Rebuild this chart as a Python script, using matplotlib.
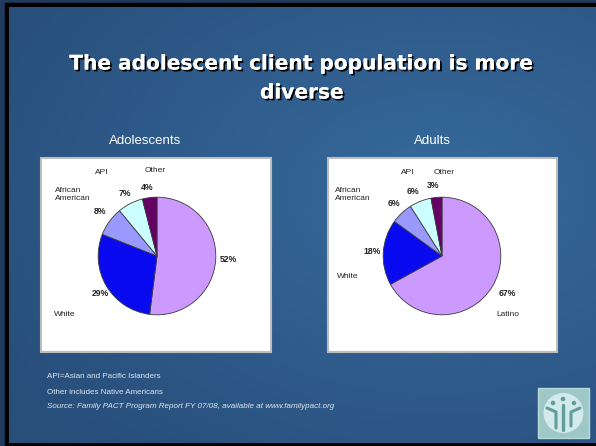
import numpy as np
import matplotlib
matplotlib.use("Agg")
import matplotlib.pyplot as plt
from matplotlib import patheffects as pe
from matplotlib.patches import Rectangle, Circle

# ---------------- data ----------------
categories = ["Latino", "White", "African American", "API", "Other"]
adolescents = [52, 29, 8, 7, 4]
adults = [67, 18, 6, 6, 3]
colors = ["#CC99FF", "#0A0AF0", "#9999FF", "#CCFFFF", "#660066"]
title_lines = ["The adolescent client population is more", "diverse"]
panel_titles = ["Adolescents", "Adults"]
notes = ["API=Asian and Pacific Islanders", "Other includes Native Americans"]
source = "Source: Family PACT Program Report FY 07/08, available at www.familypact.org"

W, H = 596, 446
fig = plt.figure(figsize=(W / 100, H / 100), dpi=100)
fig.patch.set_facecolor("#2E5C8E")

# overlay axes in pixel coordinates
ov = fig.add_axes([0, 0, 1, 1])
ov.set_xlim(0, W)
ov.set_ylim(H, 0)
ov.axis("off")

# dark outer strip, black frame and gradient slide background
ov.add_patch(Rectangle((0, 0), W, H, color="#1E3A5C", zorder=0))
ov.add_patch(Rectangle((5, 3), W, H, color="black", zorder=0.5))
yy, xx = np.mgrid[0:H, 0:W]
d = np.sqrt(((xx - 430) / 520.0) ** 2 + ((yy - 190) / 360.0) ** 2)
d = np.clip(d, 0, 1)
c_in = np.array([54, 106, 157]) / 255.0
c_out = np.array([40, 78, 122]) / 255.0
img = c_in[None, None, :] * (1 - d[..., None]) + c_out[None, None, :] * d[..., None]
ov.imshow(img, extent=(9, W + 6, 443, 7), zorder=1, aspect="auto", interpolation="bilinear")
ov.set_xlim(0, W)
ov.set_ylim(H, 0)

# title
shadow = [pe.withSimplePatchShadow(offset=(1.3, -1.3), shadow_rgbFace="black", alpha=1.0), pe.Normal()]
for txt, y in zip(title_lines, [64, 93]):
    ov.text(302, y, txt, ha="center", va="center", color="white", fontsize=14.5,
            fontweight="bold", family="DejaVu Sans", zorder=5, path_effects=shadow)

# panel titles
ov.text(145, 141, panel_titles[0], ha="center", va="center", color="white", fontsize=9.5,
        family="Liberation Sans", zorder=5)
ov.text(432, 141, panel_titles[1], ha="center", va="center", color="white", fontsize=9.5,
        family="Liberation Sans", zorder=5)

# white boxes
for (x0, x1) in [(41, 271), (328, 557)]:
    ov.add_patch(Rectangle((x0, 158), x1 - x0, 194, facecolor="white", edgecolor="#BDBDBD",
                           linewidth=1.5, zorder=2))

# pies
def pie_axes(cx, cy, r):
    ax = fig.add_axes([(cx - r) / W, (H - cy - r) / H, 2 * r / W, 2 * r / H])
    ax.set_zorder(3)
    return ax

for (cx, vals) in [(157, adolescents), (442, adults)]:
    ax = pie_axes(cx, 256, 60)
    ax.pie(vals, colors=colors, startangle=90, counterclock=False, radius=1,
           wedgeprops=dict(edgecolor="#3A3A3A", linewidth=0.6))
    ax.set_xlim(-1.02, 1.02)
    ax.set_ylim(-1.02, 1.02)
    ax.set_aspect("equal")
    ax.axis("off")

# labels: percent positions (pixel) for each slice
lab_kw = dict(ha="center", va="center", fontsize=6.2, color="#222222", family="Liberation Sans", zorder=6)
pct_pos_left = [(228, 260), (100, 293), (100, 212), (125, 193), (147, 188)]
pct_pos_right = [(507, 293), (372, 251), (394, 203), (413, 191), (433, 186)]
for vals, pos in [(adolescents, pct_pos_left), (adults, pct_pos_right)]:
    for v, (x, y) in zip(vals, pos):
        ov.text(x, y, f"{v}%", fontweight="bold", **lab_kw)

name_kw = dict(fontsize=6.0, color="#222222", family="Liberation Sans", zorder=6, va="center")
# left panel names
ov.text(102, 173, categories[3], ha="center", **name_kw)
ov.text(155, 171, categories[4], ha="center", **name_kw)
ov.text(55, 194, "African\nAmerican", ha="left", linespacing=1.2, **name_kw)
ov.text(54, 314, categories[1], ha="left", **name_kw)
# right panel names
ov.text(408, 173, categories[3], ha="center", **name_kw)
ov.text(444, 173, categories[4], ha="center", **name_kw)
ov.text(335, 194, "African\nAmerican", ha="left", linespacing=1.2, **name_kw)
ov.text(337, 277, categories[1], ha="left", **name_kw)
ov.text(508, 314, categories[0], ha="center", **name_kw)

# footnotes
ov.text(47, 377, notes[0], ha="left", va="center", fontsize=5.8, color="#DDE6F0",
        family="Liberation Sans", zorder=5)
ov.text(47, 392, notes[1], ha="left", va="center", fontsize=5.8, color="#DDE6F0",
        family="Liberation Sans", zorder=5)
ov.text(47, 406, source, ha="left", va="center", fontsize=5.8, color="#DDE6F0",
        family="Liberation Sans", style="italic", zorder=5)

# logo
ov.add_patch(Rectangle((538, 388), 51, 50, facecolor="#9EC8C8", edgecolor="#B8DADA", linewidth=1, zorder=5))
ov.add_patch(Circle((563.5, 413), 20, facecolor="#D4EAEA", edgecolor="none", zorder=6))
teal = "#5E9E9E"
for (x, y) in [(553, 403), (563, 399), (574, 403)]:
    ov.add_patch(Circle((x, y), 2.3, facecolor=teal, edgecolor="none", zorder=7))
ov.plot([547, 556, 556], [408, 412, 428], color=teal, lw=2.2, zorder=7, solid_capstyle="round")
ov.plot([563, 563], [405, 430], color=teal, lw=2.4, zorder=7, solid_capstyle="round")
ov.plot([580, 571, 571], [408, 412, 426], color=teal, lw=2.2, zorder=7, solid_capstyle="round")

fig.savefig("out.png", dpi=100, facecolor=fig.get_facecolor())
